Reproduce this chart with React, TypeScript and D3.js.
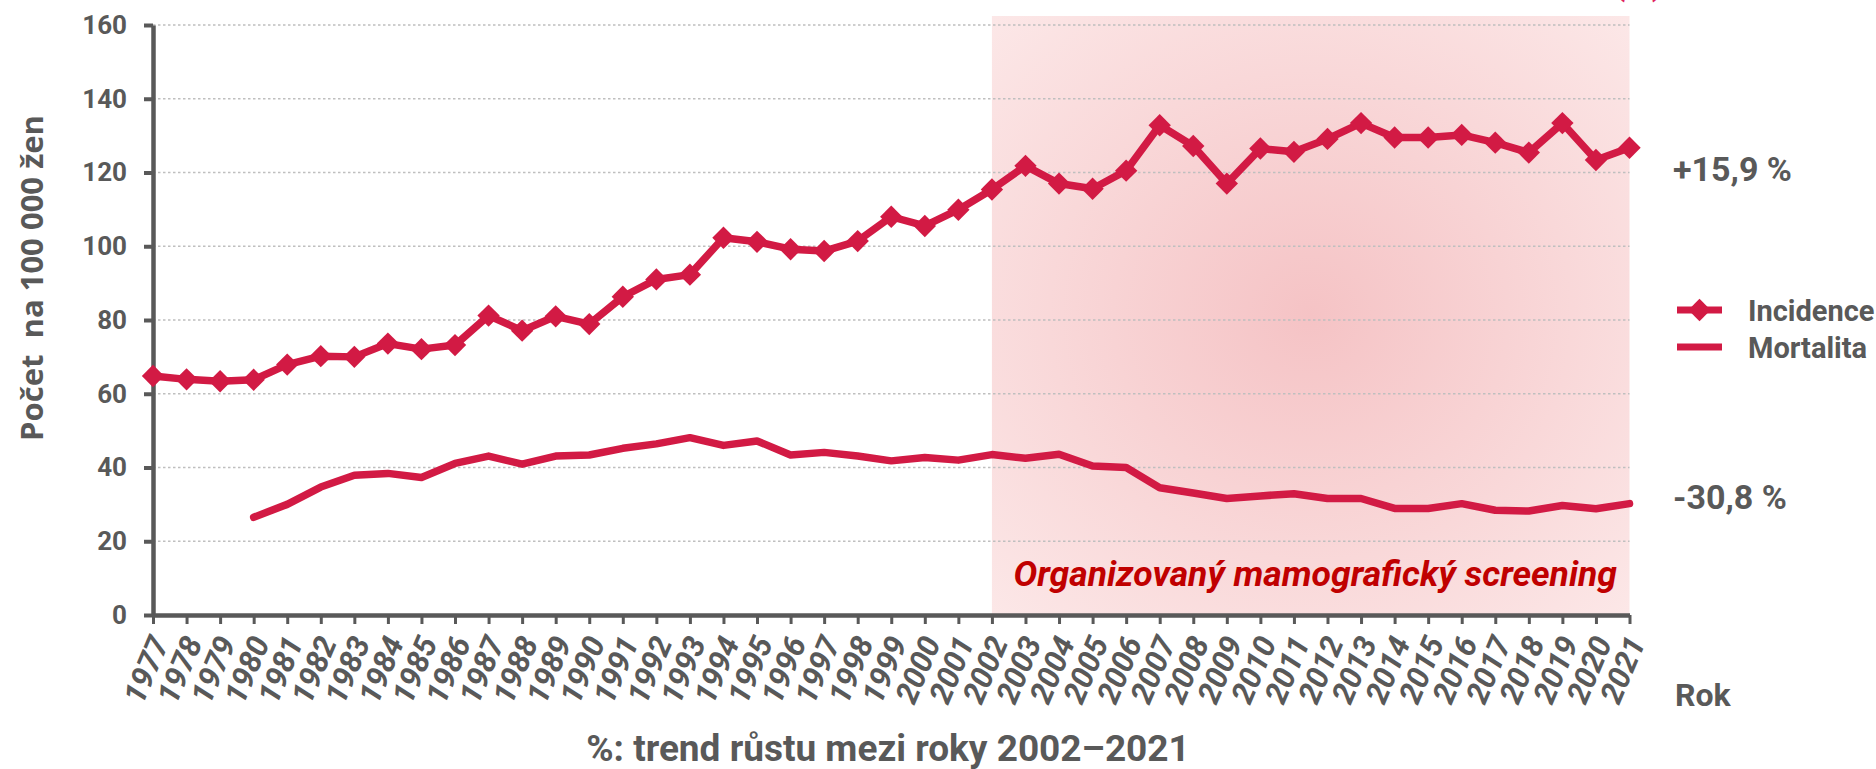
import React, { useEffect, useRef } from "react";
import * as d3 from "d3";

// Incidence a mortalita - počet na 100 000 žen, 1977–2021
const years = [
  1977, 1978, 1979, 1980, 1981, 1982, 1983, 1984, 1985, 1986, 1987, 1988, 1989, 1990, 1991,
  1992, 1993, 1994, 1995, 1996, 1997, 1998, 1999, 2000, 2001, 2002, 2003, 2004, 2005, 2006,
  2007, 2008, 2009, 2010, 2011, 2012, 2013, 2014, 2015, 2016, 2017, 2018, 2019, 2020, 2021,
];

const incidence = [
  64.8, 63.9, 63.4, 63.8, 67.9, 70.2, 70.0, 73.6, 72.1, 73.2, 81.2, 77.1, 81.0, 78.9, 86.3,
  91.0, 92.3, 102.3, 101.2, 99.2, 98.7, 101.4, 108.0, 105.5, 109.9, 115.4, 121.8, 117.0, 115.6, 120.5,
  132.8, 127.2, 117.0, 126.5, 125.6, 129.1, 133.4, 129.5, 129.5, 130.2, 128.1, 125.4, 133.4, 123.4, 126.7,
];

const mortalita = [
  null, null, null, 26.5, 30.0, 34.7, 37.9, 38.4, 37.3, 41.1, 43.1, 40.9, 43.1, 43.4, 45.2,
  46.4, 48.1, 46.0, 47.2, 43.4, 44.1, 43.1, 41.8, 42.7, 42.0, 43.5, 42.5, 43.6, 40.4, 40.0,
  34.5, 33.1, 31.6, 32.3, 32.9, 31.6, 31.6, 28.9, 28.9, 30.2, 28.4, 28.2, 29.7, 28.8, 30.2,
];

const yTicks = [0, 20, 40, 60, 80, 100, 120, 140, 160];
const seriesNames = ["Incidence", "Mortalita"];
const trendLabels = ["+15,9 %", "-30,8 %"];
const screeningStart = 2002;

const RED = "#D21A44";
const GREY = "#595959";
const FONT = "Roboto, 'Open Sans', sans-serif";

const App = () => {
  const svgRef = useRef(null);
  const width = 1876;
  const height = 769;

  const drawChart = () => {
    const svg = d3.select(svgRef.current);
    svg.selectAll("*").remove();

    const x = d3.scaleLinear().domain([years[0], years[years.length - 1]]).range([153, 1629.5]);
    const y = d3.scaleLinear().domain([0, 160]).range([615, 25]);

    // shaded screening period
    const defs = svg.append("defs");
    const grad = defs
      .append("radialGradient")
      .attr("id", "screenGrad")
      .attr("cx", "0.5")
      .attr("cy", "0.5")
      .attr("r", "0.72");
    grad.append("stop").attr("offset", "0").attr("stop-color", "#F5C3C5");
    grad.append("stop").attr("offset", "1").attr("stop-color", "#FCE8E8");

    svg.append("rect")
      .attr("x", x(screeningStart))
      .attr("y", 16)
      .attr("width", x(2021) - x(screeningStart))
      .attr("height", y(0) - 16)
      .attr("fill", "url(#screenGrad)");

    // clipped title remains at the top edge
    svg.append("text")
      .attr("x", 1613)
      .attr("y", -6)
      .style("font-family", FONT)
      .style("font-size", "36px")
      .style("fill", "#E0245E")
      .text("(%)");

    // grid
    svg.append("g")
      .selectAll("line")
      .data(yTicks.filter((d) => d > 0))
      .join("line")
      .attr("x1", x(1977))
      .attr("x2", x(2021))
      .attr("y1", (d) => y(d))
      .attr("y2", (d) => y(d))
      .attr("stroke", "#BFBFBF")
      .attr("stroke-width", 1.3)
      .attr("stroke-dasharray", "2.5 2.5");

    // y axis
    const yAxis = svg.append("g")
      .attr("transform", `translate(${x(1977)},0)`)
      .call(d3.axisLeft(y).tickValues(yTicks).tickSize(9).tickSizeOuter(0).tickPadding(17));
    yAxis.select(".domain").attr("stroke", GREY).attr("stroke-width", 4.5);
    yAxis.selectAll(".tick line").attr("stroke", GREY).attr("stroke-width", 4);
    yAxis.selectAll(".tick text")
      .style("font-family", FONT)
      .style("font-weight", 700)
      .style("font-size", "26px")
      .style("fill", GREY);

    // x axis
    const xAxis = svg.append("g")
      .attr("transform", `translate(0,${y(0)})`)
      .call(
        d3.axisBottom(x).tickValues(years).tickFormat(d3.format("d")).tickSize(9).tickSizeOuter(0)
      );
    xAxis.select(".domain").attr("stroke", GREY).attr("stroke-width", 4.5);
    xAxis.selectAll(".tick line").attr("stroke", GREY).attr("stroke-width", 3);
    xAxis.selectAll(".tick text")
      .attr("x", 0)
      .attr("y", 0)
      .attr("dy", "0.35em")
      .attr("transform", "translate(6,23) rotate(-67)")
      .style("text-anchor", "end")
      .style("font-family", FONT)
      .style("font-weight", 700)
      .style("font-style", "italic")
      .style("font-size", "31px")
      .style("fill", GREY);

    // screening label
    svg.append("text")
      .attr("x", 1617)
      .attr("y", 586)
      .attr("text-anchor", "end")
      .style("font-family", FONT)
      .style("font-weight", 700)
      .style("font-style", "italic")
      .style("font-size", "35.5px")
      .style("fill", "#C00000")
      .text("Organizovaný mamografický screening");

    // mortalita line
    const mortLine = d3.line()
      .defined((d) => d[1] != null)
      .x((d) => x(d[0]))
      .y((d) => y(d[1]));
    svg.append("path")
      .datum(years.map((yr, i) => [yr, mortalita[i]]))
      .attr("d", mortLine)
      .attr("fill", "none")
      .attr("stroke", RED)
      .attr("stroke-width", 7.5)
      .attr("stroke-linejoin", "round")
      .attr("stroke-linecap", "round");

    // incidence line + diamonds
    const incLine = d3.line()
      .x((d) => x(d[0]))
      .y((d) => y(d[1]));
    const incData = years.map((yr, i) => [yr, incidence[i]]);
    svg.append("path")
      .datum(incData)
      .attr("d", incLine)
      .attr("fill", "none")
      .attr("stroke", RED)
      .attr("stroke-width", 7.5)
      .attr("stroke-linejoin", "round");

    const diamond = d3.symbol().type(d3.symbolSquare).size(250);
    svg.append("g")
      .selectAll("path")
      .data(incData)
      .join("path")
      .attr("d", diamond)
      .attr("transform", (d) => `translate(${x(d[0])},${y(d[1])}) rotate(45)`)
      .attr("fill", RED);

    // trend labels
    const textStyle = (sel, size) =>
      sel.style("font-family", FONT).style("font-weight", 700).style("font-size", size).style("fill", GREY);

    svg.append("text").attr("x", 1673).attr("y", 181).text(trendLabels[0]).call(textStyle, "34px");
    svg.append("text").attr("x", 1673).attr("y", 509).text(trendLabels[1]).call(textStyle, "34px");

    // legend
    const legend = svg.append("g");
    const legendY = [310, 347];
    legendY.forEach((ly, i) => {
      legend.append("line")
        .attr("x1", 1677)
        .attr("x2", 1722)
        .attr("y1", ly)
        .attr("y2", ly)
        .attr("stroke", RED)
        .attr("stroke-width", 7);
      if (i === 0) {
        legend.append("path")
          .attr("d", diamond)
          .attr("transform", `translate(1699.5,${ly}) rotate(45)`)
          .attr("fill", RED);
      }
      legend.append("text")
        .attr("x", 1748)
        .attr("y", ly + 11)
        .text(seriesNames[i])
        .call(textStyle, "29px");
    });

    // axis titles
    svg.append("text").attr("x", 1675).attr("y", 706).text("Rok").call(textStyle, "32px");

    svg.append("text")
      .attr("x", 888)
      .attr("y", 761)
      .attr("text-anchor", "middle")
      .text("%: trend růstu mezi roky 2002–2021")
      .call(textStyle, "37px");

    svg.append("text")
      .attr("transform", "translate(43,278) rotate(-90)")
      .attr("text-anchor", "middle")
      .style("white-space", "pre")
      .style("font-family", "'Open Sans', sans-serif")
      .style("font-weight", 700)
      .style("font-size", "31px")
      .style("fill", GREY)
      .text("Počet  na 100 000 žen");
  };

  useEffect(() => {
    drawChart();
  });

  return (
    <svg
      ref={svgRef}
      width={width}
      height={height}
      style={{ position: "absolute", left: 0, top: 0, background: "#fff" }}
    />
  );
};

export default App;
